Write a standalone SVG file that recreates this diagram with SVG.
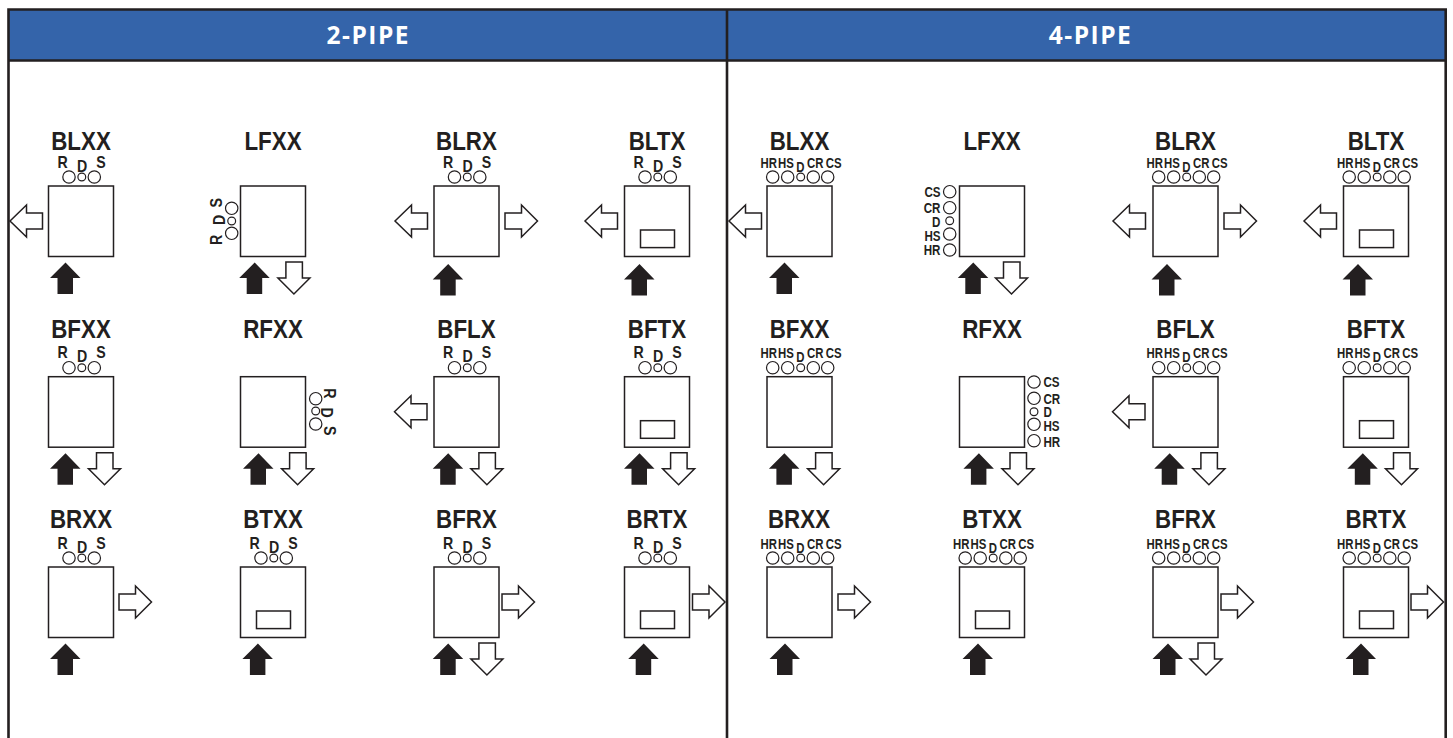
<svg xmlns="http://www.w3.org/2000/svg" width="1453" height="738" viewBox="0 0 1453 738">
<style>
text{font-family:"Liberation Sans",Arial,sans-serif;font-weight:700;fill:#231f20}
.t{font-size:26px;text-anchor:middle}
.p{font-size:16.5px;text-anchor:middle}
g[id^="p4"] .p{font-size:15px}
.e{font-size:14.5px;text-anchor:end}
.s{font-size:14.5px;text-anchor:start}
.h{font-family:"Open Sans",sans-serif;font-size:24.5px;fill:#fff;text-anchor:middle;letter-spacing:1.5px}
.box,.inner,.o{fill:#fff;stroke:#231f20;stroke-width:1.5}
.f{fill:#231f20}
.c{fill:#fff;stroke:#231f20;stroke-width:1.2}
.frame{fill:none;stroke:#231f20;stroke-width:2.6}
</style>
<defs>
<polygon id="up" class="f" points="17,76.5 32,92 24.5,92 24.5,108 9,108 9,92 1.5,92"/>
<polygon id="down" class="o" points="44.5,76 61,76 61,92 68.5,92 52.5,108 36.5,92 44.5,92"/>
<polygon id="left" class="o" points="0,35 16.5,19 16.5,27 32.5,27 32.5,43 16.5,43 16.5,51"/>
<polygon id="right" class="o" points="0,27 16.5,27 16.5,19 32.5,35 16.5,51 16.5,43 0,43"/>
<rect id="inner" class="inner" x="16" y="44" width="34" height="17.6"/>
<g id="c2"><circle class="c" cx="20.5" cy="-9" r="6.2"/><circle class="c" cx="33.3" cy="-9" r="3.9"/><circle class="c" cx="45.8" cy="-9" r="6.2"/></g>
<g id="c4"><circle class="c" cx="5.7" cy="-9" r="6.2"/><circle class="c" cx="20.7" cy="-9" r="6.2"/><circle class="c" cx="33.7" cy="-9" r="3.9"/><circle class="c" cx="46.3" cy="-9" r="6.2"/><circle class="c" cx="60.7" cy="-9" r="6.2"/></g>
</defs>

<g id="header">
<rect x="8" y="9" width="1438" height="51" fill="#3464aa"/>
<path class="frame" d="M8.5 738V9.5H1445.7V738M8.5 60.5H1445.7M727 9.5V738"/>
<text class="h" x="368.3" y="43.5">2-PIPE</text>
<text class="h" x="1090.5" y="43.5">4-PIPE</text>
</g>

<g id="p2-blxx" transform="translate(48.5,186)"><rect class="box" width="65" height="70.5"/><text class="t" transform="translate(32.5,-36) scale(.86,1)">BLXX</text><use href="#c2"/><text class="p" transform="translate(14,-18.5) scale(.86,1)">R</text><text class="p" transform="translate(33.5,-14.5) scale(.86,1)">D</text><text class="p" transform="translate(52.5,-18.5) scale(.86,1)">S</text><use href="#left" x="-38.5"/><use href="#up"/></g>
<g id="p2-lfxx" transform="translate(240.5,186)"><rect class="box" width="65" height="70.5"/><text class="t" transform="translate(32.5,-36) scale(.86,1)">LFXX</text><circle class="c" cx="-8.8" cy="22.3" r="6.2"/><circle class="c" cx="-8.8" cy="35" r="3.9"/><circle class="c" cx="-8.8" cy="47.3" r="6.2"/><text class="p" transform="translate(-18.8,16.7) rotate(-90) scale(.86,1)">S</text><text class="p" transform="translate(-15.5,34) rotate(-90) scale(.86,1)">D</text><text class="p" transform="translate(-18.8,54) rotate(-90) scale(.86,1)">R</text><use href="#up" x="-2.8"/><use href="#down" x=".9"/></g>
<g id="p2-blrx" transform="translate(434,186)"><rect class="box" width="65" height="70.5"/><text class="t" transform="translate(32.5,-36) scale(.86,1)">BLRX</text><use href="#c2"/><text class="p" transform="translate(14,-18.5) scale(.86,1)">R</text><text class="p" transform="translate(33.5,-14.5) scale(.86,1)">D</text><text class="p" transform="translate(52.5,-18.5) scale(.86,1)">S</text><use href="#left" x="-39"/><use href="#right" x="71"/><use href="#up" x="-2.8" y="1.5"/></g>
<g id="p2-bltx" transform="translate(624.5,186)"><rect class="box" width="65" height="70.5"/><use href="#inner"/><text class="t" transform="translate(32.5,-36) scale(.86,1)">BLTX</text><use href="#c2"/><text class="p" transform="translate(14,-18.5) scale(.86,1)">R</text><text class="p" transform="translate(33.5,-14.5) scale(.86,1)">D</text><text class="p" transform="translate(52.5,-18.5) scale(.86,1)">S</text><use href="#left" x="-39.5"/><use href="#up" x="-2" y="1.5"/></g>

<g id="p2-bfxx" transform="translate(48.5,376.7)"><rect class="box" width="65" height="70.5"/><text class="t" transform="translate(32.5,-38.7) scale(.86,1)">BFXX</text><use href="#c2"/><text class="p" transform="translate(14,-18.5) scale(.86,1)">R</text><text class="p" transform="translate(33.5,-14.5) scale(.86,1)">D</text><text class="p" transform="translate(52.5,-18.5) scale(.86,1)">S</text><use href="#up"/><use href="#down" x="3.5"/></g>
<g id="p2-rfxx" transform="translate(240.5,376.7)"><rect class="box" width="65" height="70.5"/><text class="t" transform="translate(32.5,-38.7) scale(.86,1)">RFXX</text><circle class="c" cx="75.2" cy="22" r="6.2"/><circle class="c" cx="75.2" cy="34.3" r="3.9"/><circle class="c" cx="75.2" cy="47.3" r="6.2"/><text class="p" transform="translate(83.5,16.6) rotate(90) scale(.86,1)">R</text><text class="p" transform="translate(80.2,36) rotate(90) scale(.86,1)">D</text><text class="p" transform="translate(83.5,54) rotate(90) scale(.86,1)">S</text><use href="#up" x="1"/><use href="#down" x="4.6"/></g>
<g id="p2-bflx" transform="translate(434,376.7)"><rect class="box" width="65" height="70.5"/><text class="t" transform="translate(32.5,-38.7) scale(.86,1)">BFLX</text><use href="#c2"/><text class="p" transform="translate(14,-18.5) scale(.86,1)">R</text><text class="p" transform="translate(33.5,-14.5) scale(.86,1)">D</text><text class="p" transform="translate(52.5,-18.5) scale(.86,1)">S</text><use href="#left" x="-39.5"/><use href="#up" x="-2.8"/><use href="#down" x=".4"/></g>
<g id="p2-bftx" transform="translate(624.5,376.7)"><rect class="box" width="65" height="70.5"/><use href="#inner"/><text class="t" transform="translate(32.5,-38.7) scale(.86,1)">BFTX</text><use href="#c2"/><text class="p" transform="translate(14,-18.5) scale(.86,1)">R</text><text class="p" transform="translate(33.5,-14.5) scale(.86,1)">D</text><text class="p" transform="translate(52.5,-18.5) scale(.86,1)">S</text><use href="#up" x="-2"/><use href="#down" x="1.6"/></g>

<g id="p2-brxx" transform="translate(48.5,567)"><rect class="box" width="65" height="70.5"/><text class="t" transform="translate(32.5,-39) scale(.86,1)">BRXX</text><use href="#c2"/><text class="p" transform="translate(14,-18.5) scale(.86,1)">R</text><text class="p" transform="translate(33.5,-14.5) scale(.86,1)">D</text><text class="p" transform="translate(52.5,-18.5) scale(.86,1)">S</text><use href="#right" x="70.5"/><use href="#up"/></g>
<g id="p2-btxx" transform="translate(240.5,567)"><rect class="box" width="65" height="70.5"/><use href="#inner"/><text class="t" transform="translate(32.5,-39) scale(.86,1)">BTXX</text><use href="#c2"/><text class="p" transform="translate(14,-18.5) scale(.86,1)">R</text><text class="p" transform="translate(33.5,-14.5) scale(.86,1)">D</text><text class="p" transform="translate(52.5,-18.5) scale(.86,1)">S</text><use href="#up" x=".4"/></g>
<g id="p2-bfrx" transform="translate(434,567)"><rect class="box" width="65" height="70.5"/><text class="t" transform="translate(32.5,-39) scale(.86,1)">BFRX</text><use href="#c2"/><text class="p" transform="translate(14,-18.5) scale(.86,1)">R</text><text class="p" transform="translate(33.5,-14.5) scale(.86,1)">D</text><text class="p" transform="translate(52.5,-18.5) scale(.86,1)">S</text><use href="#right" x="68"/><use href="#up" x="-2.8"/><use href="#down" x=".4"/></g>
<g id="p2-brtx" transform="translate(624.5,567)"><rect class="box" width="65" height="70.5"/><use href="#inner"/><text class="t" transform="translate(32.5,-39) scale(.86,1)">BRTX</text><use href="#c2"/><text class="p" transform="translate(14,-18.5) scale(.86,1)">R</text><text class="p" transform="translate(33.5,-14.5) scale(.86,1)">D</text><text class="p" transform="translate(52.5,-18.5) scale(.86,1)">S</text><use href="#right" x="68"/><use href="#up" x="2.2"/></g>

<g id="p4-blxx" transform="translate(767,186)"><rect class="box" width="65" height="70.5"/><text class="t" transform="translate(32.5,-36) scale(.86,1)">BLXX</text><use href="#c4"/><text class="p" transform="translate(1.7,-18.5) scale(.76,1)">HR</text><text class="p" transform="translate(19,-18.5) scale(.76,1)">HS</text><text class="p" transform="translate(33.3,-14.5) scale(.76,1)">D</text><text class="p" transform="translate(48.3,-18.5) scale(.76,1)">CR</text><text class="p" transform="translate(66.7,-18.5) scale(.76,1)">CS</text><use href="#left" x="-38"/><use href="#up" x=".5"/></g>
<g id="p4-lfxx" transform="translate(959.5,186)"><rect class="box" width="65" height="70.5"/><text class="t" transform="translate(32.5,-36) scale(.86,1)">LFXX</text><circle class="c" cx="-9.8" cy="5.7" r="6.2"/><circle class="c" cx="-9.8" cy="21.7" r="6.2"/><circle class="c" cx="-9.8" cy="34.7" r="3.9"/><circle class="c" cx="-9.8" cy="48" r="6.2"/><circle class="c" cx="-9.8" cy="64" r="6.2"/><text class="e" transform="translate(-19,10.7) scale(.8,1)">CS</text><text class="e" transform="translate(-19,27.3) scale(.8,1)">CR</text><text class="e" transform="translate(-19,40.7) scale(.8,1)">D</text><text class="e" transform="translate(-19,54.7) scale(.8,1)">HS</text><text class="e" transform="translate(-19,69) scale(.8,1)">HR</text><use href="#up" x="-3.2"/><use href="#down" x="-.5"/></g>
<g id="p4-blrx" transform="translate(1153,186)"><rect class="box" width="65" height="70.5"/><text class="t" transform="translate(32.5,-36) scale(.86,1)">BLRX</text><use href="#c4"/><text class="p" transform="translate(1.7,-18.5) scale(.76,1)">HR</text><text class="p" transform="translate(19,-18.5) scale(.76,1)">HS</text><text class="p" transform="translate(33.3,-14.5) scale(.76,1)">D</text><text class="p" transform="translate(48.3,-18.5) scale(.76,1)">CR</text><text class="p" transform="translate(66.7,-18.5) scale(.76,1)">CS</text><use href="#left" x="-40"/><use href="#right" x="71"/><use href="#up" x="-3" y="1.5"/></g>
<g id="p4-bltx" transform="translate(1343.5,186)"><rect class="box" width="65" height="70.5"/><use href="#inner"/><text class="t" transform="translate(32.5,-36) scale(.86,1)">BLTX</text><use href="#c4"/><text class="p" transform="translate(1.7,-18.5) scale(.76,1)">HR</text><text class="p" transform="translate(19,-18.5) scale(.76,1)">HS</text><text class="p" transform="translate(33.3,-14.5) scale(.76,1)">D</text><text class="p" transform="translate(48.3,-18.5) scale(.76,1)">CR</text><text class="p" transform="translate(66.7,-18.5) scale(.76,1)">CS</text><use href="#left" x="-39.5"/><use href="#up" x="-2.5" y="1.5"/></g>

<g id="p4-bfxx" transform="translate(767,376.7)"><rect class="box" width="65" height="70.5"/><text class="t" transform="translate(32.5,-38.7) scale(.86,1)">BFXX</text><use href="#c4"/><text class="p" transform="translate(1.7,-18.5) scale(.76,1)">HR</text><text class="p" transform="translate(19,-18.5) scale(.76,1)">HS</text><text class="p" transform="translate(33.3,-14.5) scale(.76,1)">D</text><text class="p" transform="translate(48.3,-18.5) scale(.76,1)">CR</text><text class="p" transform="translate(66.7,-18.5) scale(.76,1)">CS</text><use href="#up" x=".4"/><use href="#down" x="4.1"/></g>
<g id="p4-rfxx" transform="translate(959.5,376.7)"><rect class="box" width="65" height="70.5"/><text class="t" transform="translate(32.5,-38.7) scale(.86,1)">RFXX</text><circle class="c" cx="74.5" cy="5.3" r="6.2"/><circle class="c" cx="74.5" cy="21.6" r="6.2"/><circle class="c" cx="74.5" cy="35" r="3.9"/><circle class="c" cx="74.5" cy="47.6" r="6.2"/><circle class="c" cx="74.5" cy="64" r="6.2"/><text class="s" transform="translate(84,10.6) scale(.8,1)">CS</text><text class="s" transform="translate(84,27.3) scale(.8,1)">CR</text><text class="s" transform="translate(84,40.3) scale(.8,1)">D</text><text class="s" transform="translate(84,54) scale(.8,1)">HS</text><text class="s" transform="translate(84,70) scale(.8,1)">HR</text><use href="#up" x="2.4"/><use href="#down" x="6"/></g>
<g id="p4-bflx" transform="translate(1153,376.7)"><rect class="box" width="65" height="70.5"/><text class="t" transform="translate(32.5,-38.7) scale(.86,1)">BFLX</text><use href="#c4"/><text class="p" transform="translate(1.7,-18.5) scale(.76,1)">HR</text><text class="p" transform="translate(19,-18.5) scale(.76,1)">HS</text><text class="p" transform="translate(33.3,-14.5) scale(.76,1)">D</text><text class="p" transform="translate(48.3,-18.5) scale(.76,1)">CR</text><text class="p" transform="translate(66.7,-18.5) scale(.76,1)">CS</text><use href="#left" x="-40.5"/><use href="#up" x="-.3"/><use href="#down" x="3.4"/></g>
<g id="p4-bftx" transform="translate(1343.5,376.7)"><rect class="box" width="65" height="70.5"/><use href="#inner"/><text class="t" transform="translate(32.5,-38.7) scale(.86,1)">BFTX</text><use href="#c4"/><text class="p" transform="translate(1.7,-18.5) scale(.76,1)">HR</text><text class="p" transform="translate(19,-18.5) scale(.76,1)">HS</text><text class="p" transform="translate(33.3,-14.5) scale(.76,1)">D</text><text class="p" transform="translate(48.3,-18.5) scale(.76,1)">CR</text><text class="p" transform="translate(66.7,-18.5) scale(.76,1)">CS</text><use href="#up" x="2.3"/><use href="#down" x="5.5"/></g>

<g id="p4-brxx" transform="translate(767,567)"><rect class="box" width="65" height="70.5"/><text class="t" transform="translate(32,-39) scale(.86,1)">BRXX</text><use href="#c4"/><text class="p" transform="translate(1.7,-18.5) scale(.76,1)">HR</text><text class="p" transform="translate(19,-18.5) scale(.76,1)">HS</text><text class="p" transform="translate(33.3,-14.5) scale(.76,1)">D</text><text class="p" transform="translate(48.3,-18.5) scale(.76,1)">CR</text><text class="p" transform="translate(66.7,-18.5) scale(.76,1)">CS</text><use href="#right" x="71"/><use href="#up" x="1"/></g>
<g id="p4-btxx" transform="translate(959.5,567)"><rect class="box" width="65" height="70.5"/><use href="#inner"/><text class="t" transform="translate(32.5,-39) scale(.86,1)">BTXX</text><use href="#c4"/><text class="p" transform="translate(1.7,-18.5) scale(.76,1)">HR</text><text class="p" transform="translate(19,-18.5) scale(.76,1)">HS</text><text class="p" transform="translate(33.3,-14.5) scale(.76,1)">D</text><text class="p" transform="translate(48.3,-18.5) scale(.76,1)">CR</text><text class="p" transform="translate(66.7,-18.5) scale(.76,1)">CS</text><use href="#up" x="1.5"/></g>
<g id="p4-bfrx" transform="translate(1153,567)"><rect class="box" width="65" height="70.5"/><text class="t" transform="translate(32.5,-39) scale(.86,1)">BFRX</text><use href="#c4"/><text class="p" transform="translate(1.7,-18.5) scale(.76,1)">HR</text><text class="p" transform="translate(19,-18.5) scale(.76,1)">HS</text><text class="p" transform="translate(33.3,-14.5) scale(.76,1)">D</text><text class="p" transform="translate(48.3,-18.5) scale(.76,1)">CR</text><text class="p" transform="translate(66.7,-18.5) scale(.76,1)">CS</text><use href="#right" x="68"/><use href="#up" x="-2"/><use href="#down" x=".5"/></g>
<g id="p4-brtx" transform="translate(1343.5,567)"><rect class="box" width="65" height="70.5"/><use href="#inner"/><text class="t" transform="translate(32.5,-39) scale(.86,1)">BRTX</text><use href="#c4"/><text class="p" transform="translate(1.7,-18.5) scale(.76,1)">HR</text><text class="p" transform="translate(19,-18.5) scale(.76,1)">HS</text><text class="p" transform="translate(33.3,-14.5) scale(.76,1)">D</text><text class="p" transform="translate(48.3,-18.5) scale(.76,1)">CR</text><text class="p" transform="translate(66.7,-18.5) scale(.76,1)">CS</text><use href="#right" x="67.5"/><use href="#up" x=".5"/></g>
</svg>
